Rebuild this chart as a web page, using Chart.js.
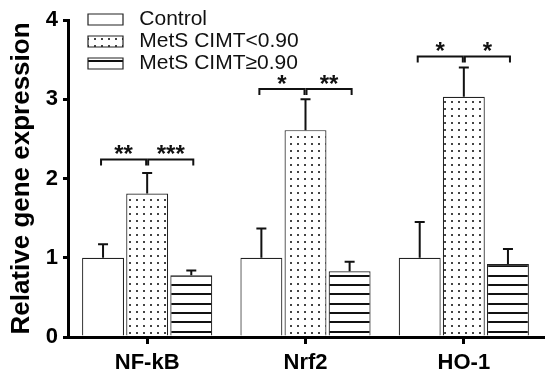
<!DOCTYPE html>
<html lang="en">

<head>
    <meta charset="UTF-8">
    <title>Relative gene expression</title>
    <script src="https://cdn.jsdelivr.net/npm/chart.js"></script>
    <style>
        body { margin: 0; background: #fff; }
        #chart { display: block; }
    </style>
</head>

<body>
    <canvas id="chart" width="550" height="379"></canvas>

    <script>
        // values
        const categories = ['NF-kB', 'Nrf2', 'HO-1'];
        const seriesNames = ['Control', 'MetS CIMT<0.90', 'MetS CIMT\u22650.90'];
        const controlMean = [1.00, 1.00, 1.00];
        const controlSem = [0.17, 0.37, 0.45];
        const lowMean = [1.81, 2.61, 3.03];
        const lowSem = [0.26, 0.39, 0.37];
        const highMean = [0.78, 0.83, 0.92];
        const highSem = [0.06, 0.12, 0.19];
        const yTicks = [0, 1, 2, 3, 4];

        // significance brackets: category, from series, to series, height, stars
        const bracketCat = [0, 0, 1, 1, 2, 2];
        const bracketFrom = [0, 1, 0, 1, 0, 1];
        const bracketTo = [1, 2, 1, 2, 1, 2];
        const bracketY = [2.24, 2.24, 3.13, 3.13, 3.54, 3.54];
        const bracketStars = ['**', '***', '*', '**', '*', '*'];

        const sems = [controlSem, lowSem, highSem];
        const font = 'Liberation Sans, Arial, sans-serif';

        // fill patterns
        function dotPattern() {
            const c = document.createElement('canvas');
            c.width = 7; c.height = 7;
            const g = c.getContext('2d');
            g.fillStyle = '#fff';
            g.fillRect(0, 0, 7, 7);
            g.fillStyle = '#444';
            g.fillRect(3, 3, 2, 2);
            return g.createPattern(c, 'repeat');
        }
        function stripePattern() {
            const c = document.createElement('canvas');
            c.width = 8; c.height = 28;
            const g = c.getContext('2d');
            g.fillStyle = '#fff';
            g.fillRect(0, 0, 8, 28);
            g.fillStyle = '#111';
            g.fillRect(0, 4, 8, 2);
            g.fillRect(0, 13, 8, 2);
            g.fillRect(0, 23, 8, 2);
            return g.createPattern(c, 'repeat');
        }

        const errorBars = {
            id: 'errorBars',
            afterDatasetsDraw(chart) {
                const ctx = chart.ctx;
                const y = chart.scales.y;
                ctx.save();
                ctx.strokeStyle = '#111';
                ctx.lineWidth = 2;
                chart.data.datasets.forEach((ds, i) => {
                    chart.getDatasetMeta(i).data.forEach((bar, j) => {
                        const top = y.getPixelForValue(ds.data[j] + sems[i][j]);
                        ctx.beginPath();
                        ctx.moveTo(bar.x, bar.y);
                        ctx.lineTo(bar.x, top);
                        ctx.moveTo(bar.x - 5, top);
                        ctx.lineTo(bar.x + 5, top);
                        ctx.stroke();
                    });
                });

                // brackets and stars
                ctx.lineWidth = 2;
                ctx.fillStyle = '#111';
                ctx.font = 'bold 24px ' + font;
                ctx.textAlign = 'center';
                ctx.textBaseline = 'alphabetic';
                bracketCat.forEach((cat, k) => {
                    let x1 = chart.getDatasetMeta(bracketFrom[k]).data[cat].x;
                    let x2 = chart.getDatasetMeta(bracketTo[k]).data[cat].x;
                    x1 += bracketFrom[k] === 1 ? 1 : -2;
                    x2 += bracketTo[k] === 1 ? -1 : 2;
                    const py = y.getPixelForValue(bracketY[k]);
                    ctx.beginPath();
                    ctx.moveTo(x1, py + 6);
                    ctx.lineTo(x1, py);
                    ctx.lineTo(x2, py);
                    ctx.lineTo(x2, py + 6);
                    ctx.stroke();
                    ctx.fillText(bracketStars[k], (x1 + x2) / 2, py + 3);
                });
                ctx.restore();
            }
        };

        // move the legend into the top-left corner of the plot
        const legendSpot = {
            id: 'legendSpot',
            afterLayout(chart) {
                const lg = chart.legend;
                const dx = 19, dy = 8;
                lg.left += dx; lg.right += dx;
                lg.top += dy; lg.bottom += dy;
            }
        };

        const config = {
            type: 'bar',
            data: {
                labels: categories,
                datasets: [{
                    label: seriesNames[0],
                    data: controlMean,
                    backgroundColor: '#fff',
                }, {
                    label: seriesNames[1],
                    data: lowMean,
                    backgroundColor: dotPattern(),
                }, {
                    label: seriesNames[2],
                    data: highMean,
                    backgroundColor: stripePattern(),
                }].map(ds => Object.assign(ds, {
                    borderColor: '#222',
                    borderWidth: 1.2,
                    categoryPercentage: 0.836,
                    barPercentage: 0.95,
                }))
            },
            options: {
                responsive: false,
                animation: false,
                layout: { padding: { top: 20, right: 7, left: 0, bottom: 0 } },
                plugins: {
                    tooltip: { enabled: false },
                    legend: {
                        position: 'chartArea',
                        align: 'start',
                        labels: {
                            color: '#111',
                            font: { family: font, size: 21 },
                            boxWidth: 35,
                            boxHeight: 11,
                            padding: 1,
                            generateLabels(chart) {
                                const items = Chart.defaults.plugins.legend.labels.generateLabels(chart);
                                items.forEach(it => { it.text = ' ' + it.text; });
                                return items;
                            }
                        }
                    }
                },
                scales: {
                    x: {
                        afterFit(s) { s.height = 42; },
                        grid: {
                            offset: false,
                            drawOnChartArea: false,
                            tickLength: 7,
                            lineWidth: 3,
                            color: '#000'
                        },
                        border: { display: true, width: 3, color: '#000' },
                        ticks: {
                            color: '#000',
                            padding: 6,
                            font: { family: font, size: 22, weight: 'bold' }
                        }
                    },
                    y: {
                        min: 0,
                        max: 4,
                        afterFit(s) { s.width = 68; },
                        afterBuildTicks(s) { s.ticks = yTicks.map(v => ({ value: v })); },
                        grid: {
                            drawOnChartArea: false,
                            tickLength: 5,
                            lineWidth: 3,
                            color: '#000'
                        },
                        border: { display: true, width: 3, color: '#000' },
                        ticks: {
                            color: '#000',
                            padding: 5,
                            font: { family: font, size: 22, weight: 'bold' }
                        },
                        title: {
                            display: true,
                            text: 'Relative gene expression',
                            color: '#000',
                            padding: { top: 6, bottom: 0 },
                            font: { family: font, size: 26, weight: 'bold' }
                        }
                    }
                }
            },
            plugins: [errorBars, legendSpot]
        };

        new Chart(document.getElementById('chart').getContext('2d'), config);
    </script>
</body>

</html>
